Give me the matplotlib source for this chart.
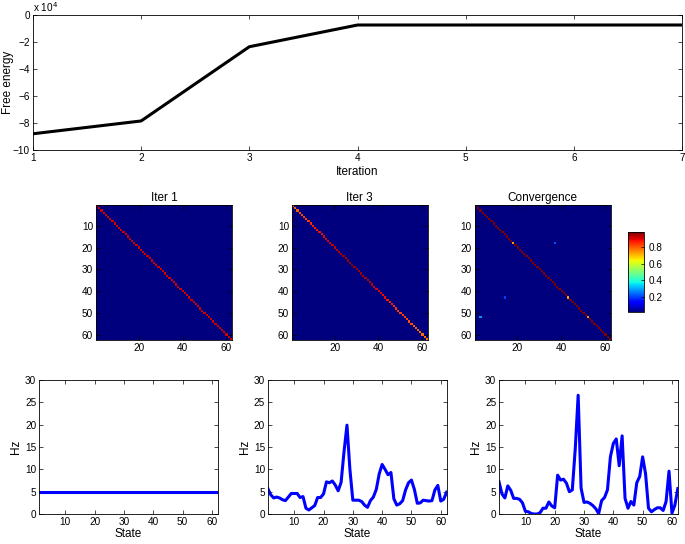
import numpy as np
import matplotlib
matplotlib.use("Agg")
import matplotlib.pyplot as plt

plt.rcParams['font.family'] = ['Liberation Sans', 'DejaVu Sans']

# Free energy per iteration (x 10^4)
iters = [1, 2, 3, 4, 5, 6, 7]
free_energy = [-8.8, -7.85, -2.35, -0.74, -0.74, -0.74, -0.74]

# transition matrices (62 states)
n_states = 62
bg_val = 0.02
iter1_diag = [0.91] * n_states
iter3_diag = [0.78, 0.79, 0.8, 0.81, 0.82, 0.83, 0.83, 0.84, 0.85, 0.86,
              0.86, 0.87, 0.88, 0.88, 0.89, 0.9, 0.9, 0.91, 0.92, 0.92,
              0.93, 0.93, 0.94, 0.95, 0.95, 0.96, 0.96, 0.97, 0.96, 0.96,
              0.95, 0.95, 0.94, 0.94, 0.93, 0.93, 0.92, 0.91, 0.9, 0.9,
              0.89, 0.88, 0.88, 0.87, 0.86, 0.86, 0.85, 0.84, 0.84, 0.83,
              0.83, 0.82, 0.82, 0.81, 0.81, 0.8, 0.8, 0.79, 0.79, 0.78,
              0.78, 0.77]
conv_diag = [0.98] * n_states
conv_diag_low = {18: 0.74, 43: 0.73, 52: 0.75}
conv_off = [(18, 37, 0.22), (43, 14, 0.2), (52, 3, 0.28)]

# firing rates per state
states = np.arange(1, 63)
rate_iter1 = [4.9] * n_states
rate_iter3 = [5.7, 4.3, 3.6, 3.8, 3.6, 3.2, 3.0, 3.8, 4.6, 4.6,
              4.6, 3.7, 3.9, 1.3, 0.9, 1.4, 1.9, 3.7, 3.7, 4.5,
              7.2, 7.0, 7.4, 6.5, 5.2, 7.1, 14.0, 19.9, 10.0, 3.1,
              3.1, 3.1, 2.8, 2.0, 1.5, 3.0, 3.8, 5.5, 9.0, 11.1,
              10.0, 8.8, 9.3, 3.4, 2.0, 2.3, 3.0, 5.4, 7.0, 7.6,
              5.5, 2.4, 2.5, 3.1, 3.0, 2.9, 3.0, 5.4, 6.4, 2.9,
              3.3, 4.9]
rate_conv = [7.2, 4.5, 3.6, 6.3, 5.3, 3.5, 3.5, 3.3, 2.5, 0.6,
             0.5, 0.1, 0.0, 0.0, 0.3, 1.3, 1.3, 2.7, 1.8, 1.4,
             8.7, 7.6, 7.8, 6.9, 5.0, 5.4, 14.5, 26.6, 5.8, 2.6,
             2.7, 2.4, 1.9, 1.2, 0.1, 3.0, 3.7, 5.4, 12.8, 15.8,
             16.8, 10.8, 17.5, 3.5, 1.3, 2.8, 2.0, 7.0, 8.4, 12.8,
             9.0, 1.3, 0.5, 1.0, 1.4, 1.4, 0.8, 2.8, 9.6, 0.2,
             2.0, 5.7]


def make_mat(diag):
    m = np.full((n_states, n_states), bg_val)
    m[np.arange(n_states), np.arange(n_states)] = diag
    return m


mat1 = make_mat(iter1_diag)
mat3 = make_mat(iter3_diag)
conv_d = list(conv_diag)
for k, v in conv_diag_low.items():
    conv_d[k - 1] = v
matc = make_mat(conv_d)
for r, c, v in conv_off:
    matc[r - 1, c - 1] = v

tick_fs = 7.2
lab_fs = 8.5


def style(ax):
    ax.tick_params(direction='in', top=True, right=True, labelsize=tick_fs,
                   length=3, width=0.5, pad=2)
    for s in ax.spines.values():
        s.set_linewidth(0.6)


fig = plt.figure(figsize=(6.85, 5.44), dpi=100)

# top panel
ax = fig.add_axes([0.048, 0.7243, 0.948, 0.2481])
ax.plot(iters, free_energy, color='black', lw=2.2)
ax.set_xlim(1, 7)
ax.set_ylim(-10, 0)
ax.set_yticks([0, -2, -4, -6, -8, -10])
ax.set_xticks(iters)
ax.set_xlabel('Iteration', fontsize=lab_fs, labelpad=2)
ax.set_ylabel('Free energy', fontsize=lab_fs)
ax.yaxis.set_label_coords(-0.029, 0.5)
ax.text(0.0, 1.01, 'x 10$^4$', transform=ax.transAxes, fontsize=tick_fs,
        ha='left', va='bottom')
style(ax)

# heatmaps
titles = ['Iter 1', 'Iter 3', 'Convergence']
mats = [mat1, mat3, matc]
lefts = [0.140, 0.426, 0.693]
for left, m, t in zip(lefts, mats, titles):
    ah = fig.add_axes([left, 0.375, 0.1985, 0.248])
    im = ah.imshow(m, cmap='jet', vmin=0.02, vmax=0.98, aspect='auto',
                   interpolation='nearest',
                   extent=[0.5, n_states + 0.5, n_states + 0.5, 0.5])
    ah.set_xticks([20, 40, 60])
    ah.set_yticks([10, 20, 30, 40, 50, 60])
    ah.set_title(t, fontsize=lab_fs, pad=3)
    style(ah)

cax = fig.add_axes([0.917, 0.4265, 0.0234, 0.147])
cb = fig.colorbar(im, cax=cax, ticks=[0.2, 0.4, 0.6, 0.8])
cb.ax.tick_params(labelsize=tick_fs, direction='in', length=2, width=0.5)
cb.outline.set_linewidth(0.6)

# bottom rate panels
rates = [rate_iter1, rate_iter3, rate_conv]
blefts = [0.0569, 0.391, 0.7285]
for left, r in zip(blefts, rates):
    ab = fig.add_axes([left, 0.0551, 0.261, 0.2463])
    ab.plot(states, r, color='#0000ff', lw=2.2)
    ab.set_xlim(1, 62)
    ab.set_ylim(0, 30)
    ab.set_xticks([10, 20, 30, 40, 50, 60])
    ab.set_yticks([0, 5, 10, 15, 20, 25, 30])
    ab.set_xlabel('State', fontsize=lab_fs, labelpad=1)
    ab.set_ylabel('Hz', fontsize=lab_fs, labelpad=2)
    style(ab)

fig.savefig('out.png', dpi=100)
